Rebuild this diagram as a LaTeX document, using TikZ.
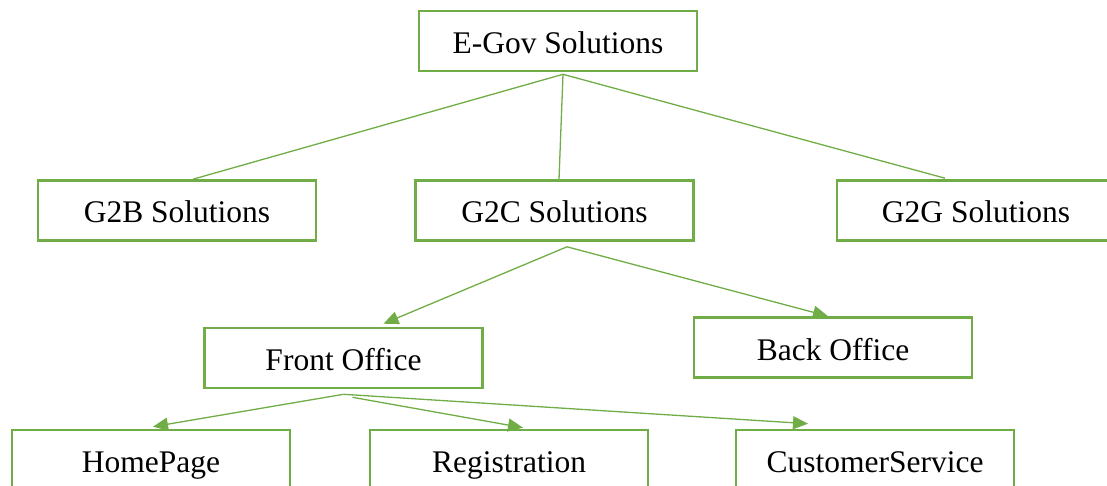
\documentclass[tikz,border=0pt]{standalone}
\usepackage{fontspec}
\setmainfont{Liberation Serif}
\usetikzlibrary{arrows.meta,calc}
\definecolor{leaf}{HTML}{70AD47}
\begin{document}
\begin{tikzpicture}[x=1pt,y=-1pt,
  box/.style={draw=leaf,line width=2.6pt,minimum width=278pt,minimum height=60pt,
    inner sep=0pt,text height=31pt,text depth=6pt,font=\fontsize{31.5}{36}\selectfont},
  link/.style={draw=leaf,line width=1.3pt},
  arrowlink/.style={link,-{Triangle[length=15pt,width=13pt]}}]
\useasboundingbox (0,0) rectangle (1107,486);
\clip (0,0) rectangle (1107,486);

% boxes
\node[box] (egov)  at (558,41)    {E-Gov Solutions};
\node[box] (gtb)   at (177,210.5) {G2B Solutions};
\node[box] (gtc)   at (554.5,210.5) {G2C Solutions};
\node[box] (gtg)   at (976,210.5) {G2G Solutions};
\node[box] (front) at (343.5,358) {Front Office};
\node[box] (back)  at (833,347.5) {Back Office};
\node[box] (home)  at (151,460)   {HomePage};
\node[box] (reg)   at (509,460)   {Registration};
\node[box] (cust)  at (875,460)   {CustomerService};

% connector end points
\coordinate (egovout)  at ($(egov.south)+(5,2)$);
\coordinate (gtbin)    at ($(gtb.north)+(16,0)$);
\coordinate (gtcin)    at ($(gtc.north)+(4.5,0)$);
\coordinate (gtgin)    at ($(gtg.north)+(-31,-1)$);
\coordinate (gtcout)   at ($(gtc.south)+(12.5,5)$);
\coordinate (frontin)  at ($(front.north)+(40,-3)$);
\coordinate (backin)   at ($(back.north)+(-5,0)$);
\coordinate (frontout) at ($(front.south)+(0,5)$);
\coordinate (frontout2) at ($(front.south)+(9,8)$);
\coordinate (homein)   at ($(home.north)+(2,-2)$);
\coordinate (regin)    at ($(reg.north)+(14,-1)$);
\coordinate (custin)   at ($(cust.north)+(-67,-5)$);

% first level
\draw[link] (egovout) -- (gtbin);
\draw[link] (egovout) -- (gtcin);
\draw[link] (egovout) -- (gtgin);

% second level
\draw[arrowlink] (gtcout) -- (frontin);
\draw[arrowlink] (gtcout) -- (backin);

% third level
\draw[arrowlink] (frontout) -- (homein);
\draw[arrowlink] (frontout2) -- (regin);
\draw[arrowlink] (frontout) -- (custin);
\end{tikzpicture}
\end{document}
